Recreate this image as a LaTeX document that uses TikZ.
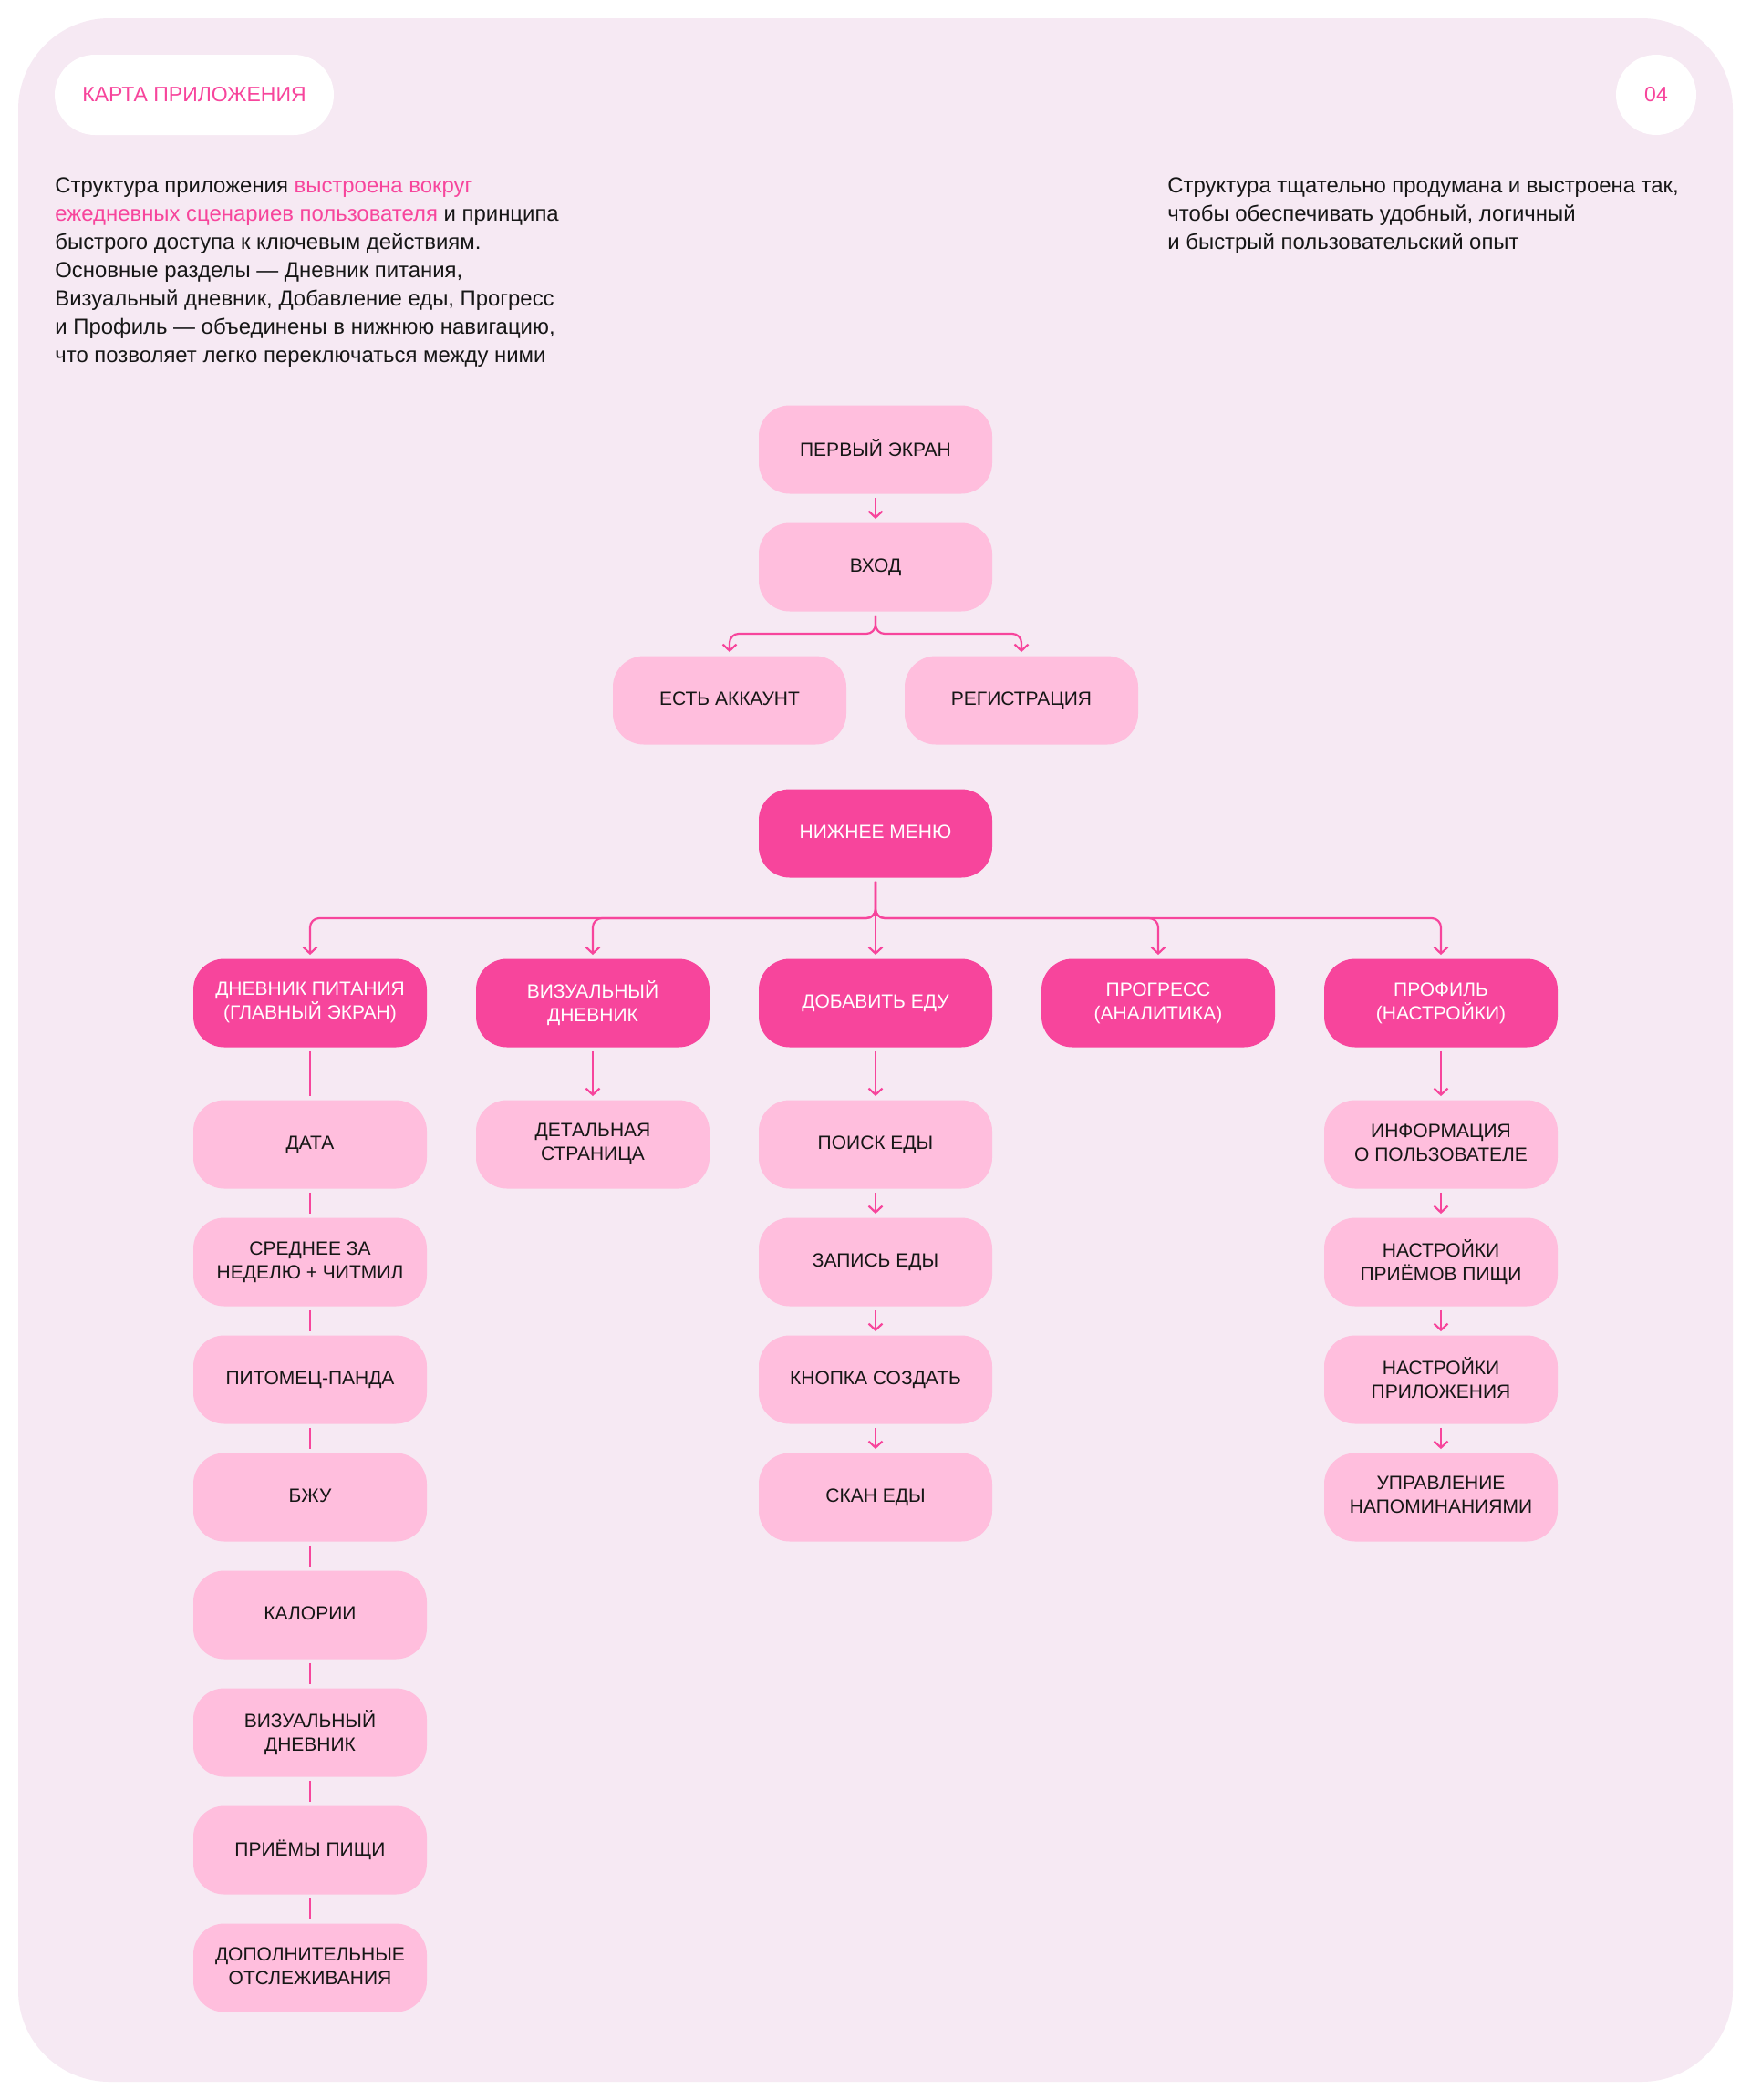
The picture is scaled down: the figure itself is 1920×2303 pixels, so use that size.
\documentclass[tikz,border=0pt]{standalone}
\usepackage{fontspec}
\setmainfont{Liberation Sans}
\usetikzlibrary{arrows.meta}
\definecolor{bgpink}{HTML}{F6E9F3}
\definecolor{softpink}{HTML}{FFBEDD}
\definecolor{hotpink}{HTML}{F7459C}
\definecolor{ink}{HTML}{161616}
\newcommand\capstrut{\rule[-2.3pt]{0pt}{9.8pt}}
\begin{document}
\begin{tikzpicture}[
    x=0.5pt, y=-0.5pt,
    box/.style={rounded corners=17pt, minimum width=128pt, minimum height=48.5pt,
      align=center, inner sep=0pt, font=\fontsize{10.5}{13}\selectfont,
      execute at begin node=\capstrut, execute at end node=\capstrut},
    light/.style={box, fill=softpink, text=ink},
    dark/.style={box, fill=hotpink, text=white},
    link/.style={draw=hotpink, line width=1.1pt, shorten <=2pt, shorten >=2pt},
    flow/.style={link, -{Straight Barb[length=3.5pt,width=7.5pt]}},
    para/.style={anchor=north west, inner sep=0pt, align=left, text=ink,
      font=\fontsize{11.95}{15.5}\selectfont},
  ]
  \fill[white] (0,0) rectangle (1920,2303);
  \fill[bgpink, rounded corners=50pt] (20,20) rectangle (1900,2283);
  \useasboundingbox (0,0) rectangle (1920,2303);

  % header
  \node[fill=white, rounded corners=22pt, minimum width=153pt, minimum height=44pt,
    text=hotpink, font=\fontsize{11.5}{14}\selectfont] (title) at (213,104) {КАРТА ПРИЛОЖЕНИЯ};
  \node[circle, fill=white, minimum size=44pt, text=hotpink,
    font=\fontsize{11.5}{14}\selectfont] (page) at (1816,104) {04};
  \node[para] (intro) at (60,194)
    {Структура приложения \textcolor{hotpink}{выстроена вокруг}\\
     \textcolor{hotpink}{ежедневных сценариев пользователя} и принципа\\
     быстрого доступа к ключевым действиям.\\
     Основные разделы — Дневник питания,\\
     Визуальный дневник, Добавление еды, Прогресс\\
     и Профиль — объединены в нижнюю навигацию,\\
     что позволяет легко переключаться между ними};
  \node[para] (aside) at (1280,194)
    {Структура тщательно продумана и выстроена так,\\
     чтобы обеспечивать удобный, логичный\\
     и быстрый пользовательский опыт};

  % entry
  \node[light] (first) at (960,493) {ПЕРВЫЙ ЭКРАН};
  \node[light] (login) at (960,622) {ВХОД};
  \node[light] (account) at (800,768) {ЕСТЬ АККАУНТ};
  \node[light] (signup) at (1120,768) {РЕГИСТРАЦИЯ};
  \node[dark] (menu) at (960,914) {НИЖНЕЕ МЕНЮ};
  \coordinate (loginhub) at (960,695);
  \coordinate (menuhub) at (960,1007);

  % bottom navigation
  \foreach \n/\x/\t in {diary/340/{ДНЕВНИК ПИТАНИЯ\\(ГЛАВНЫЙ ЭКРАН)},
      visual/650/{ВИЗУАЛЬНЫЙ\\ДНЕВНИК}, addfood/960/{ДОБАВИТЬ ЕДУ},
      progress/1270/{ПРОГРЕСС\\(АНАЛИТИКА)}, profile/1580/{ПРОФИЛЬ\\(НАСТРОЙКИ)}}
    \node[dark] (\n) at (\x,1100) {\t};

  \foreach \t [count=\i] in {ДАТА, {СРЕДНЕЕ ЗА\\НЕДЕЛЮ + ЧИТМИЛ}, ПИТОМЕЦ-ПАНДА, БЖУ,
      КАЛОРИИ, {ВИЗУАЛЬНЫЙ\\ДНЕВНИК}, ПРИЁМЫ ПИЩИ, {ДОПОЛНИТЕЛЬНЫЕ\\ОТСЛЕЖИВАНИЯ}}
    \node[light] (d\i) at (340,{1255+129*(\i-1)}) {\t};
  \node[light] (vd1) at (650,1255) {ДЕТАЛЬНАЯ\\СТРАНИЦА};
  \foreach \t [count=\i] in {ПОИСК ЕДЫ, ЗАПИСЬ ЕДЫ, КНОПКА СОЗДАТЬ, СКАН ЕДЫ}
    \node[light] (af\i) at (960,{1255+129*(\i-1)}) {\t};
  \foreach \t [count=\i] in {{ИНФОРМАЦИЯ\\О ПОЛЬЗОВАТЕЛЕ}, {НАСТРОЙКИ\\ПРИЁМОВ ПИЩИ},
      {НАСТРОЙКИ\\ПРИЛОЖЕНИЯ}, {УПРАВЛЕНИЕ\\НАПОМИНАНИЯМИ}}
    \node[light] (pr\i) at (1580,{1255+129*(\i-1)}) {\t};

  % connectors
  \foreach \t in {account, signup}
    \draw[flow, rounded corners=5pt] (login) -- (loginhub) -| (\t);
  \foreach \t in {diary, visual, progress, profile}
    \draw[flow, rounded corners=5pt] (menu) -- (menuhub) -| (\t);
  \foreach \a/\b in {first/login, menu/addfood, visual/vd1, addfood/af1, af1/af2, af2/af3,
      af3/af4, profile/pr1, pr1/pr2, pr2/pr3, pr3/pr4}
    \draw[flow] (\a) -- (\b);
  \foreach \a/\b in {diary/d1, d1/d2, d2/d3, d3/d4, d4/d5, d5/d6, d6/d7, d7/d8}
    \draw[link] (\a) -- (\b);
\end{tikzpicture}
\end{document}
